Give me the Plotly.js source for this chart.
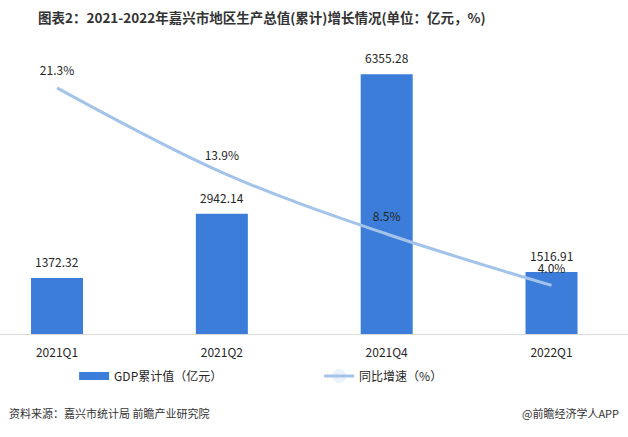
<!DOCTYPE html>
<html>
<head>
<meta charset="utf-8">
<script src="https://cdn.plot.ly/plotly-3.0.1.min.js"></script>
<style>html,body{margin:0;padding:0;background:#fff;}#chart{width:628px;height:437px;}</style>
</head>
<body>
<div id="chart"></div>
<script>
const categories = ['2021Q1', '2021Q2', '2021Q4', '2022Q1'];
const gdpValues = [1372.32, 2942.14, 6355.28, 1516.91];
const growthValues = [21.3, 13.9, 8.5, 4.0];
const gdpName = 'GDP累计值（亿元）';
const growthName = '同比增速（%）';
const titleText = '图表2：2021-2022年嘉兴市地区生产总值(累计)增长情况(单位：亿元，%)';
const sourceText = '资料来源：嘉兴市统计局 前瞻产业研究院';
const brandText = '@前瞻经济学人APP';

const FONT = '"Noto Sans CJK SC", "Noto Sans", sans-serif';
const BAR_COLOR = '#3b7dd8';
const LINE_COLOR = '#a4c3ea';

const traces = [
  {
    type: 'bar',
    name: gdpName,
    x: categories,
    y: gdpValues,
    width: 0.3155,
    marker: {color: BAR_COLOR},
    showlegend: false,
    hoverinfo: 'none'
  },
  {
    // legend proxy giving a wide rectangular swatch for the bar series
    type: 'scatter',
    mode: 'lines',
    name: gdpName,
    x: [categories[0]],
    y: [null],
    line: {color: BAR_COLOR, width: 8},
    showlegend: true,
    hoverinfo: 'none'
  },
  {
    type: 'scatter',
    mode: 'lines+markers+text',
    name: growthName,
    x: categories,
    y: growthValues,
    yaxis: 'y2',
    line: {color: LINE_COLOR, width: 3, shape: 'spline', smoothing: 1},
    marker: {size: 14, opacity: 0, color: LINE_COLOR},
    text: growthValues.map(v => v.toFixed(1) + '%'),
    textposition: 'top center',
    cliponaxis: false,
    textfont: {family: FONT, size: 12, color: '#262626'},
    hoverinfo: 'none'
  }
];

const barLabels = categories.map((c, i) => ({
  x: c, y: gdpValues[i], xref: 'x', yref: 'y',
  text: gdpValues[i].toFixed(2),
  showarrow: false, yanchor: 'bottom', yshift: 6,
  font: {family: FONT, size: 12, color: '#262626'}
}));

const layout = {
  width: 628,
  height: 437,
  margin: {l: 0, r: 0, t: 40, b: 103, autoexpand: false},
  paper_bgcolor: '#ffffff',
  plot_bgcolor: '#ffffff',
  font: {family: FONT, size: 12, color: '#262626'},
  title: {
    text: '<b>' + titleText + '</b>',
    font: {family: FONT, size: 13.5, color: '#333333'},
    x: 38 / 628, xanchor: 'left', xref: 'paper',
    y: 1 - 18 / 437, yanchor: 'middle', yref: 'container'
  },
  showlegend: true,
  legend: {
    orientation: 'h',
    x: 0.118, xanchor: 'left',
    y: -0.143, yanchor: 'middle',
    entrywidth: 200,
    entrywidthmode: 'pixels',
    font: {family: FONT, size: 12, color: '#262626'},
    bgcolor: 'rgba(0,0,0,0)',
    traceorder: 'normal'
  },
  xaxis: {
    type: 'category',
    range: [-0.346, 3.464],
    automargin: false,
    showgrid: false,
    zeroline: false,
    showline: true,
    linecolor: '#d9d9d9',
    linewidth: 1,
    ticks: '',
    ticklabelstandoff: 8,
    tickfont: {family: FONT, size: 12, color: '#262626'},
    fixedrange: true
  },
  yaxis: {
    range: [0, 7190],
    visible: false,
    automargin: false,
    showgrid: false,
    zeroline: false,
    fixedrange: true
  },
  yaxis2: {
    overlaying: 'y',
    side: 'right',
    range: [-0.26, 25.5],
    visible: false,
    automargin: false,
    showgrid: false,
    zeroline: false,
    fixedrange: true
  },
  annotations: barLabels.concat([
    {
      text: sourceText, xref: 'paper', yref: 'paper',
      x: 7 / 628, xanchor: 'left', y: -0.269, yanchor: 'middle',
      showarrow: false, font: {family: FONT, size: 11, color: '#333333'}
    },
    {
      text: brandText, xref: 'paper', yref: 'paper',
      x: 621 / 628, xanchor: 'right', y: -0.269, yanchor: 'middle',
      showarrow: false, font: {family: FONT, size: 11, color: '#333333'}
    }
  ])
};

Plotly.newPlot('chart', traces, layout, {displayModeBar: false, staticPlot: true});
</script>
</body>
</html>
